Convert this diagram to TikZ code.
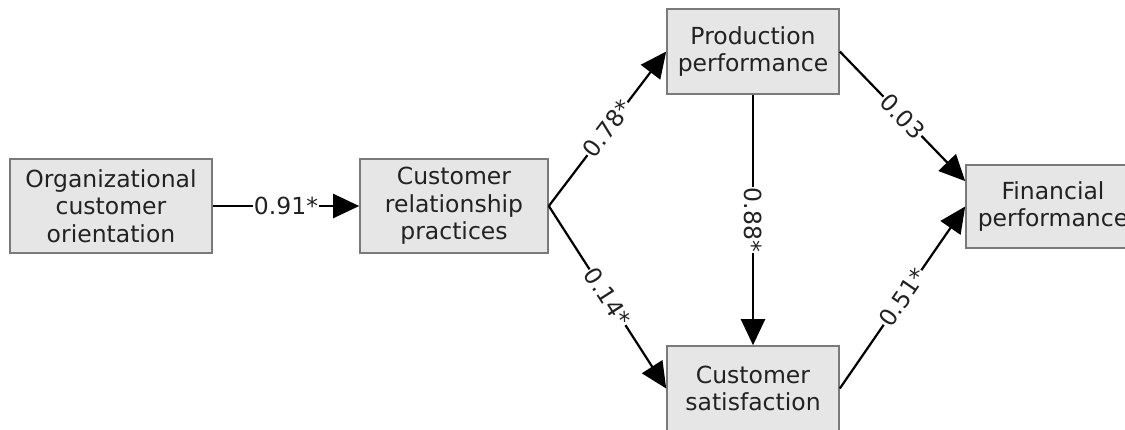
\documentclass[tikz,border=0pt]{standalone}
\usepackage{fontspec}
\setmainfont{DejaVu Sans}
\usetikzlibrary{arrows.meta,calc}
\definecolor{boxfill}{HTML}{E6E6E6}
\definecolor{boxline}{HTML}{7A7A7A}
\definecolor{txt}{HTML}{222222}
\begin{document}
\begin{tikzpicture}[x=1pt,y=-1pt,
  every node/.style={font=\fontsize{23.5}{27.5}\selectfont, text=txt},
  box/.style={draw=boxline, fill=boxfill, line width=1.6pt, align=center, inner sep=0pt},
  link/.style={draw=black, line width=2.2pt, -{Triangle[length=26pt,width=24pt]}},
  lbl/.style={fill=white, inner sep=1pt, midway}
]
\useasboundingbox (0,0) rectangle (1125,429);
\clip (0,0) rectangle (1125,429);
\node[box, minimum width=202pt, minimum height=94pt] (org) at (111,206) {Organizational\\customer\\orientation};
\node[box, minimum width=188pt, minimum height=94pt] (crp) at (454,206) {Customer\\relationship\\practices};
\node[box, minimum width=172pt, minimum height=85pt] (prod) at (753,51.5) {Production\\performance};
\node[box, minimum width=172pt, minimum height=85pt] (sat) at (753,388.5) {Customer\\satisfaction};
\node[box, minimum width=174pt, minimum height=83pt] (fin) at (1053,206.5) {Financial\\performance};
\coordinate (finup) at ($(fin.north west)!0.2!(fin.south west)$);
\draw[link] (org.east) -- node[lbl] {0.91*} (crp.west);
\draw[link] (crp.east) -- node[lbl, sloped] {0.78*} (prod.west);
\draw[link] (crp.east) -- node[lbl, sloped] {0.14*} (sat.west);
\draw[link] (prod.south) -- node[lbl, rotate=-90] {0.88*} (sat.north);
\draw[link] (prod.east) -- node[lbl, sloped] {0.03} (finup);
\draw[link] (sat.east) -- node[lbl, sloped] {0.51*} (fin.west);
\end{tikzpicture}
\end{document}
